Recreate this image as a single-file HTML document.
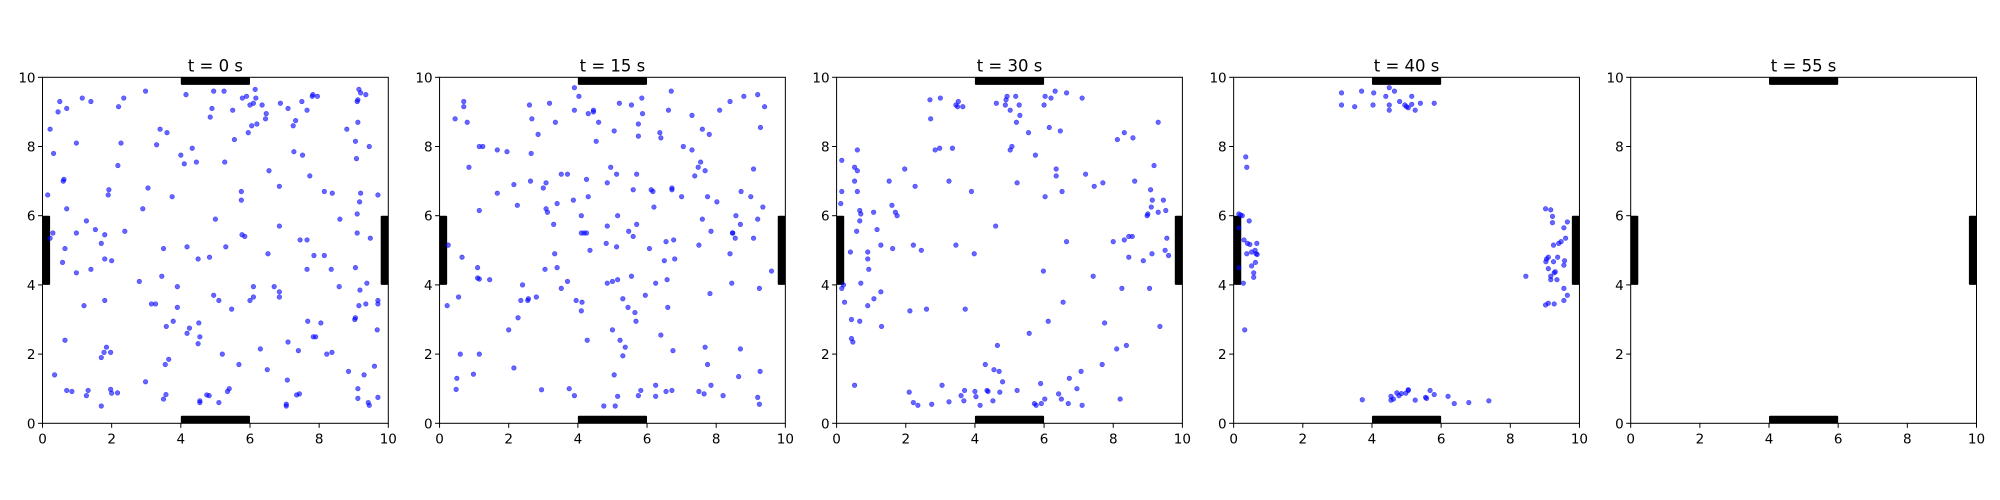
<!DOCTYPE html>
<html><head><meta charset="utf-8"><style>
html,body{margin:0;padding:0;background:#fff;}
svg{display:block;font-family:"DejaVu Sans","Liberation Sans",sans-serif;}
</style></head><body>
<svg id="chart" width="2000" height="500" viewBox="0 0 2000 500" xmlns="http://www.w3.org/2000/svg"></svg>
<script>
const panelTitles = ["t = 0 s","t = 15 s","t = 30 s","t = 40 s","t = 55 s"];
const tickValues = [0,2,4,6,8,10];
const wallSegments = [["top",4,6],["bottom",4,6],["left",4,6],["right",4,6]];
const pointsT0 = [[0.15,6.6],[0.22,8.5],[0.32,7.8],[0.22,5.35],[0.3,5.5],[0.5,9.3],[0.45,9.0],[0.7,9.1],[0.6,7.0],[0.62,7.05],[0.7,6.2],[0.65,5.05],[0.58,4.65],[0.98,8.1],[0.98,5.5],[0.98,4.35],[1.15,9.4],[1.4,9.3],[1.27,5.85],[1.4,4.45],[1.2,3.4],[0.35,1.4],[0.65,2.4],[0.7,0.95],[0.85,0.92],[1.27,0.8],[1.32,0.95],[1.53,5.6],[1.7,5.2],[1.8,5.45],[1.8,4.75],[2.0,4.7],[1.8,3.55],[1.7,1.9],[1.78,2.05],[1.85,2.2],[1.97,2.05],[1.7,0.5],[1.97,0.98],[2.0,0.87],[2.17,0.88],[1.9,6.6],[1.92,6.75],[2.18,7.45],[2.2,9.15],[2.27,8.1],[2.35,9.4],[2.38,5.55],[2.8,4.1],[2.9,6.2],[2.98,9.6],[3.05,6.8],[3.3,8.05],[3.4,8.5],[3.6,8.4],[3.75,6.55],[3.45,4.25],[3.5,5.05],[3.15,3.45],[3.27,3.45],[2.98,1.2],[3.58,2.8],[3.65,1.85],[3.55,1.7],[3.78,2.95],[3.5,0.7],[3.57,0.83],[3.9,3.35],[3.9,3.95],[4.0,7.75],[4.1,7.5],[4.15,9.5],[4.33,7.95],[4.45,7.55],[4.18,5.1],[4.18,2.6],[4.25,2.75],[4.5,4.75],[4.52,2.9],[4.5,2.3],[4.55,2.5],[4.55,0.65],[4.55,0.6],[4.75,0.82],[4.82,0.8],[4.85,8.85],[4.9,9.1],[4.95,9.6],[4.83,4.8],[4.95,3.7],[5.0,5.9],[5.1,3.55],[5.1,0.6],[5.2,2.0],[5.25,9.6],[5.27,7.55],[5.3,5.1],[5.35,0.92],[5.4,1.0],[5.5,9.05],[5.47,3.3],[5.55,8.2],[5.68,1.7],[5.78,9.4],[5.9,9.45],[5.75,6.7],[5.75,6.45],[5.77,5.45],[5.85,5.4],[5.95,8.4],[6.0,9.2],[6.1,9.25],[6.15,9.65],[6.17,9.4],[6.05,8.6],[6.2,8.65],[6.35,9.2],[6.45,8.8],[6.47,8.95],[6.0,3.55],[6.1,3.65],[6.1,3.95],[6.3,2.15],[6.5,1.55],[6.52,4.9],[6.55,7.3],[6.7,3.95],[6.85,3.8],[6.85,3.65],[6.85,6.85],[6.85,5.7],[6.88,9.25],[7.05,0.5],[7.05,0.55],[7.08,1.25],[7.1,2.35],[7.1,9.1],[7.25,8.6],[7.27,7.85],[7.32,8.75],[7.4,2.1],[7.35,0.82],[7.43,0.85],[7.45,5.3],[7.5,9.3],[7.52,7.75],[7.65,9.05],[7.65,5.3],[7.65,4.45],[7.67,2.95],[7.73,7.15],[7.8,9.45],[7.82,9.5],[7.95,9.45],[7.85,4.85],[7.83,2.5],[7.9,2.5],[8.05,2.9],[8.15,6.7],[8.15,4.85],[8.22,2.0],[8.35,4.45],[8.38,6.65],[8.37,2.05],[8.6,5.9],[8.58,3.95],[8.8,8.5],[8.85,1.5],[9.05,8.15],[9.08,7.65],[9.05,4.5],[9.03,3.0],[9.05,3.05],[9.1,9.3],[9.12,9.35],[9.15,9.65],[9.2,9.55],[9.12,8.7],[9.1,6.05],[9.17,6.4],[9.2,6.65],[9.1,5.5],[9.15,3.4],[9.18,3.85],[9.12,1.0],[9.12,0.72],[9.3,1.4],[9.35,9.5],[9.38,4.05],[9.35,3.45],[9.45,8.0],[9.48,5.35],[9.42,0.6],[9.45,0.52],[9.6,1.65],[9.7,6.6],[9.7,3.55],[9.7,3.45],[9.68,2.7],[9.7,0.75]];
const pointsT15 = [[0.25,5.15],[0.22,3.4],[0.45,8.8],[0.7,9.3],[0.7,9.15],[0.8,8.7],[0.85,7.4],[0.65,4.8],[0.55,3.65],[0.6,2.0],[0.5,1.3],[0.48,0.98],[0.98,1.42],[1.15,8.0],[1.25,8.0],[1.15,6.15],[1.1,4.5],[1.1,4.2],[1.15,4.17],[1.45,4.15],[1.15,2.0],[1.67,7.9],[1.95,7.85],[1.67,6.65],[2.15,6.9],[2.25,6.3],[2.0,2.7],[2.27,3.05],[2.35,3.55],[2.4,4.0],[2.55,3.55],[2.57,3.6],[2.8,3.65],[2.15,1.6],[2.6,9.2],[2.67,8.8],[2.85,8.35],[2.65,7.8],[2.63,7.0],[3.0,6.8],[3.08,6.95],[3.08,6.2],[3.12,6.1],[3.18,9.25],[3.35,8.7],[3.3,5.75],[3.33,4.9],[3.05,4.45],[3.4,4.5],[3.4,6.35],[3.52,7.2],[3.7,7.2],[3.52,3.9],[3.7,4.1],[2.95,0.97],[3.75,1.0],[3.9,0.8],[3.9,9.7],[3.9,9.05],[4.03,9.45],[3.87,6.45],[3.95,3.55],[4.1,3.25],[4.12,3.5],[4.1,6.0],[4.1,5.5],[4.18,5.5],[4.25,5.5],[4.25,7.05],[4.3,6.55],[4.35,5.0],[4.27,2.4],[4.3,8.95],[4.45,9.0],[4.45,9.05],[4.6,8.7],[4.53,8.15],[4.85,6.95],[4.95,7.4],[5.05,8.45],[5.2,9.25],[5.12,7.2],[4.82,5.2],[4.85,5.7],[5.12,5.1],[5.15,6.0],[4.85,4.05],[5.0,4.1],[5.15,4.15],[5.0,2.7],[5.3,3.6],[5.45,3.35],[5.22,2.4],[5.3,1.95],[5.37,2.2],[5.05,1.4],[4.75,0.5],[5.08,0.5],[5.15,0.78],[5.55,9.2],[5.6,6.75],[5.47,5.55],[5.6,5.4],[5.7,5.75],[5.55,4.25],[5.65,3.2],[5.68,2.95],[5.7,7.2],[5.75,8.65],[5.75,8.3],[5.85,9.4],[5.87,8.95],[5.95,3.7],[5.75,0.8],[5.82,0.95],[6.07,5.05],[6.12,6.75],[6.17,6.7],[6.2,6.25],[6.25,4.05],[6.25,1.1],[6.25,0.78],[6.37,8.4],[6.4,8.25],[6.4,2.55],[6.55,0.92],[6.5,4.7],[6.55,5.25],[6.58,4.15],[6.6,3.35],[6.62,9.05],[6.7,9.6],[6.72,6.8],[6.72,6.75],[6.77,5.3],[6.8,4.75],[6.75,2.1],[6.72,0.95],[7.0,6.55],[7.05,8.0],[7.3,8.9],[7.3,7.9],[7.38,7.15],[7.48,7.4],[7.55,7.55],[7.6,8.5],[7.6,5.9],[7.5,5.15],[7.68,7.3],[7.75,6.55],[7.8,8.35],[7.85,5.55],[7.82,3.75],[7.68,2.2],[7.75,1.7],[7.85,1.1],[7.5,0.92],[7.65,0.85],[8.02,6.4],[8.1,9.05],[8.2,0.8],[8.4,9.3],[8.4,4.9],[8.45,4.05],[8.47,5.5],[8.48,5.5],[8.55,5.35],[8.57,6.0],[8.7,5.75],[8.72,6.7],[8.7,2.15],[8.65,1.35],[8.8,9.45],[9.0,6.55],[9.08,7.35],[9.08,5.35],[9.2,5.9],[9.25,3.9],[9.28,8.55],[9.2,9.5],[9.35,6.25],[9.4,9.15],[9.27,1.5],[9.2,0.75],[9.25,0.55],[9.6,4.4]];
const pointsT30 = [[0.15,7.6],[0.15,6.7],[0.12,6.35],[0.15,3.9],[0.2,4.0],[0.23,3.5],[0.4,4.95],[0.43,3.0],[0.43,2.45],[0.47,2.35],[0.52,1.1],[0.52,7.4],[0.52,7.0],[0.6,7.9],[0.6,7.3],[0.6,6.7],[0.67,6.15],[0.7,6.05],[0.67,5.85],[0.58,5.55],[0.7,4.05],[0.67,2.95],[0.9,4.95],[0.9,4.75],[0.93,4.45],[0.9,3.4],[1.07,6.1],[1.17,5.6],[1.08,3.6],[1.28,5.15],[1.28,3.8],[1.3,2.8],[1.52,7.0],[1.6,6.3],[1.7,6.1],[1.75,6.0],[1.62,5.05],[1.97,7.35],[2.27,6.85],[2.22,5.15],[2.45,5.0],[2.12,3.25],[2.6,3.3],[2.1,0.9],[2.22,0.6],[2.35,0.52],[2.75,0.55],[2.7,9.35],[2.72,8.8],[2.85,7.9],[2.98,7.95],[3.0,9.4],[3.25,7.0],[3.35,7.95],[3.45,5.15],[3.45,9.2],[3.5,9.15],[3.52,9.3],[3.65,9.15],[3.25,0.62],[3.05,1.1],[3.6,0.8],[3.68,0.65],[3.7,0.95],[3.72,3.3],[3.9,6.7],[3.98,4.9],[4.0,0.92],[4.03,0.77],[4.15,0.52],[4.3,1.7],[4.35,0.95],[4.38,0.92],[4.52,0.65],[4.55,1.55],[4.6,5.7],[4.62,9.25],[4.65,2.25],[4.7,1.5],[4.72,0.9],[4.8,1.2],[4.88,9.2],[4.9,9.35],[4.93,9.45],[5.02,9.05],[5.02,7.9],[5.07,8.0],[5.18,9.45],[5.2,8.7],[5.22,6.95],[5.22,0.95],[5.28,9.2],[5.3,8.9],[5.55,8.4],[5.57,2.6],[5.75,7.75],[5.72,0.57],[5.77,0.52],[5.9,1.15],[5.92,0.57],[5.98,4.4],[6.0,9.2],[6.03,9.45],[6.03,6.55],[6.02,0.7],[6.12,2.95],[6.15,8.55],[6.2,9.4],[6.32,9.6],[6.35,7.35],[6.35,7.15],[6.47,8.45],[6.52,6.7],[6.55,3.5],[6.65,9.55],[6.65,5.25],[6.42,0.85],[6.5,0.7],[6.7,0.57],[6.73,1.3],[6.95,1.0],[7.07,1.5],[7.1,0.52],[7.1,9.4],[7.2,7.2],[7.45,6.85],[7.42,4.25],[7.7,6.95],[7.68,1.7],[7.75,2.9],[8.0,5.25],[8.12,8.2],[8.1,2.15],[8.2,0.7],[8.25,3.9],[8.32,8.4],[8.32,5.3],[8.38,2.25],[8.45,5.4],[8.45,4.8],[8.55,5.4],[8.57,8.25],[8.62,7.0],[8.87,4.7],[8.98,6.0],[9.0,6.05],[9.05,3.9],[9.08,6.75],[9.1,6.25],[9.13,6.45],[9.12,4.9],[9.18,7.45],[9.3,6.1],[9.3,8.7],[9.35,2.8],[9.45,6.45],[9.52,6.15],[9.5,5.0],[9.55,5.35],[9.6,4.85]];
const pointsT40 = [[0.15,6.05],[0.2,6.02],[0.25,6.0],[0.15,5.65],[0.45,5.85],[0.3,5.3],[0.15,4.5],[0.4,5.2],[0.47,5.17],[0.67,5.2],[0.38,4.9],[0.52,4.95],[0.62,5.0],[0.65,4.9],[0.68,4.88],[0.52,4.55],[0.63,4.65],[0.58,4.35],[0.58,4.22],[0.28,4.05],[0.35,7.7],[0.38,7.4],[0.32,2.7],[3.12,9.55],[3.12,9.2],[3.5,9.15],[3.7,9.6],[4.03,9.2],[4.05,9.55],[4.4,9.45],[4.5,9.7],[4.65,9.6],[4.5,9.2],[4.5,9.05],[4.8,9.3],[4.95,9.2],[5.0,9.15],[5.05,9.12],[5.15,9.45],[5.15,9.22],[5.25,9.05],[5.4,9.25],[5.8,9.25],[3.72,0.68],[4.55,0.78],[4.55,0.67],[4.62,0.7],[4.72,0.88],[4.78,0.8],[4.85,0.86],[4.98,0.87],[5.05,0.95],[5.05,0.97],[5.25,0.67],[5.55,0.75],[5.58,0.72],[5.68,0.95],[5.8,0.83],[6.2,0.78],[6.38,0.57],[6.8,0.6],[7.38,0.65],[8.45,4.25],[9.02,6.2],[9.17,6.17],[9.22,5.98],[9.22,5.8],[9.55,5.65],[9.65,5.82],[9.25,5.15],[9.4,5.2],[9.47,5.25],[9.6,5.35],[9.05,4.75],[9.1,4.8],[9.03,4.67],[9.25,4.67],[9.37,4.8],[9.57,4.7],[9.55,4.57],[9.1,4.47],[9.17,4.25],[9.3,4.38],[9.27,4.35],[9.17,4.15],[9.35,4.15],[9.55,3.9],[9.65,3.7],[9.55,3.55],[9.02,3.42],[9.1,3.47],[9.27,3.45]];
const pointsT55 = [];
const panelPoints = [pointsT0, pointsT15, pointsT30, pointsT40, pointsT55];

const NS = "http://www.w3.org/2000/svg";
const svg = document.getElementById("chart");
function mk(tag, attrs, parent){const e=document.createElementNS(NS,tag);for(const k in attrs)e.setAttribute(k,attrs[k]);parent.appendChild(e);return e;}
const axLeft0 = 42.5, axStep = 397.05, axW = 345.8, axTop = 77.3, axH = 346;
const wallT = 7.6;

panelTitles.forEach((title, i) => {
  const L = axLeft0 + i*axStep;
  const sx = v => L + v/10*axW;
  const sy = v => axTop + axH - v/10*axH;
  const g = mk("g", {}, svg);
  
  
  // walls
  wallSegments.forEach(w => {
    let a;
    if (w[0]==="top") a={x:sx(w[1]),y:axTop,width:sx(w[2])-sx(w[1]),height:wallT};
    else if (w[0]==="bottom") a={x:sx(w[1]),y:axTop+axH-wallT,width:sx(w[2])-sx(w[1]),height:wallT};
    else if (w[0]==="left") a={x:L,y:sy(w[2]),width:wallT,height:sy(w[1])-sy(w[2])};
    else a={x:L+axW-wallT,y:sy(w[2]),width:wallT,height:sy(w[1])-sy(w[2])};
    a.fill="#000"; a.rx=1;
    const r = mk("rect", a, g);
    
    
  });
  // points
  panelPoints[i].forEach(p => {
    const c = mk("circle", {cx:sx(p[0]), cy:sy(p[1]), r:2.3, fill:"#0000ff", "fill-opacity":0.6, stroke:"#0000ff", "stroke-opacity":0.6, "stroke-width":0.6}, g);
    
    
  });
  // frame
  const f = mk("rect", {x:L, y:axTop, width:axW, height:axH, fill:"none", stroke:"#000", "stroke-width":1}, g);
  
  
  // ticks
  tickValues.forEach(t => {
    mk("line", {x1:sx(t), x2:sx(t), y1:axTop+axH, y2:axTop+axH+4.5, stroke:"#000", "stroke-width":1}, g);
    const xl = mk("text", {x:sx(t), y:axTop+axH+20, "text-anchor":"middle", "font-size":13.5, fill:"#000"}, g);
    xl.textContent = t;
    
    
    mk("line", {x1:L-4.5, x2:L, y1:sy(t), y2:sy(t), stroke:"#000", "stroke-width":1}, g);
    const yl = mk("text", {x:L-7, y:sy(t)+5, "text-anchor":"end", "font-size":13.5, fill:"#000"}, g);
    yl.textContent = t;
    
    
  });
  const tt = mk("text", {x:L+axW/2, y:axTop-6, "text-anchor":"middle", "font-size":16.5, fill:"#000"}, g);
  tt.textContent = title;
  
  
});
</script>
</body></html>
